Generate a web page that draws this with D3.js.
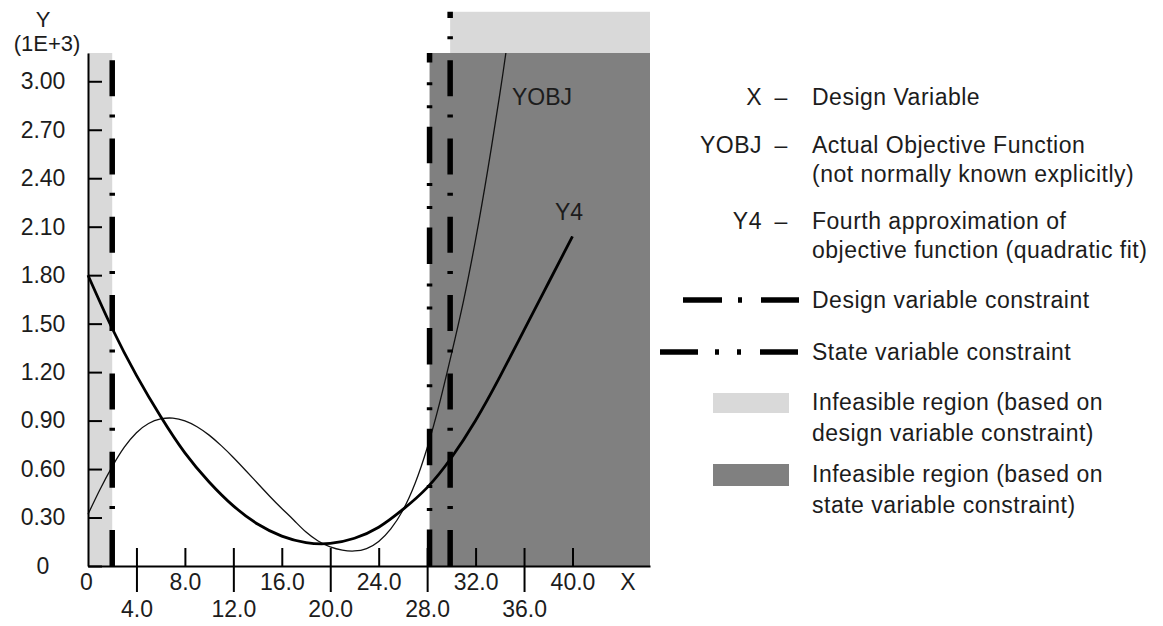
<!DOCTYPE html>
<html>
<head>
<meta charset="utf-8">
<script src="https://cdn.jsdelivr.net/npm/d3@7"></script>
<style>
  html, body { margin: 0; padding: 0; background: #fff; }
  text { font-family: "Liberation Sans", Arial, sans-serif; fill: #1c1c1c; }
</style>
</head>
<body>
<svg id="chart" width="1163" height="626"></svg>
<script>
// ---- data (Y in units of 1E+3) ----
const xTicks = [4, 8, 12, 16, 20, 24, 28, 32, 36, 40];
const yTicks = [0.3, 0.6, 0.9, 1.2, 1.5, 1.8, 2.1, 2.4, 2.7, 3.0];

// actual objective function
const yobjX = [0, 1, 2, 3, 4, 5, 6, 7, 8, 9, 10, 11, 12, 13, 14, 15, 16, 17, 18, 19, 20,
               21, 22, 23, 24, 25, 26, 27, 28, 29, 30, 31, 32, 33, 34, 34.5];
const yobjY = [0.32, 0.475, 0.615, 0.735, 0.825, 0.882, 0.91, 0.915, 0.898, 0.862, 0.81,
               0.745, 0.672, 0.593, 0.512, 0.432, 0.356, 0.283, 0.21, 0.155, 0.118,
               0.098, 0.093, 0.108, 0.152, 0.23, 0.345, 0.51, 0.73, 1.0, 1.31,
               1.64, 2.02, 2.45, 2.92, 3.175];

// fourth (quadratic) approximation
const y4X = [0, 2, 4, 6, 8, 10, 12, 14, 16, 18, 20, 22, 24, 26, 28, 30, 32, 34, 36, 38, 40];
const y4Y = [1.80, 1.47, 1.18, 0.925, 0.70, 0.52, 0.372, 0.26, 0.185, 0.145, 0.14,
             0.172, 0.24, 0.35, 0.485, 0.67, 0.90, 1.17, 1.46, 1.75, 2.04];

// constraints and region limits
const designLower = 2.0;
const designUpper = 29.9;
const stateLimit = 28.2;
const xMax = 46.4;
const yMax = 3.175;
const designRegionTop = 3.43;

// text
const curveLabels = ["YOBJ", "Y4"];
const legendKeys = ["X", "YOBJ", "Y4"];
const legendText = [
  ["Design Variable"],
  ["Actual Objective Function", "(not normally known explicitly)"],
  ["Fourth approximation of", "objective function (quadratic fit)"]
];
const lineLegend = ["Design variable constraint", "State variable constraint"];
const regionLegend = [
  ["Infeasible region (based on", "design variable constraint)"],
  ["Infeasible region (based on", "state variable constraint)"]
];

// ---- drawing ----
const svg = d3.select("#chart");
svg.append("rect").attr("width", 1163).attr("height", 626).attr("fill", "#fff");

const x = d3.scaleLinear().domain([0, xMax]).range([88, 650]);
const y = d3.scaleLinear().domain([0, yMax]).range([566, 53]);

const LIGHT = "#d9d9d9", DARK = "#808080";
const FS = 23;

// infeasible regions
svg.append("rect")
  .attr("x", x(0)).attr("y", y(yMax))
  .attr("width", x(designLower) - x(0)).attr("height", y(0) - y(yMax))
  .attr("fill", LIGHT);
svg.append("rect")
  .attr("x", x(designUpper)).attr("y", y(designRegionTop))
  .attr("width", x(xMax) - x(designUpper)).attr("height", y(0) - y(designRegionTop))
  .attr("fill", LIGHT);
svg.append("rect")
  .attr("x", x(stateLimit)).attr("y", y(yMax))
  .attr("width", x(xMax) - x(stateLimit)).attr("height", y(0) - y(yMax))
  .attr("fill", DARK);

// curves
const line = d3.line().x(d => x(d[0])).y(d => y(d[1])).curve(d3.curveNatural);
svg.append("path")
  .attr("d", line(d3.zip(yobjX, yobjY)))
  .attr("fill", "none").attr("stroke", "#111").attr("stroke-width", 1.3);
svg.append("path")
  .attr("d", line(d3.zip(y4X, y4Y)))
  .attr("fill", "none").attr("stroke", "#000").attr("stroke-width", 2.8);

// constraint lines (drawn upward from the X axis)
const DESIGN_DASH = "36 21 3 18.3";
const STATE_DASH = "36.5 18.5 3 20 3 19.7";
function vConstraint(xv, topV, dash) {
  svg.append("line")
    .attr("x1", x(xv)).attr("x2", x(xv))
    .attr("y1", y(0)).attr("y2", y(topV))
    .attr("stroke", "#000").attr("stroke-width", 5.5)
    .attr("stroke-dasharray", dash);
}
vConstraint(designLower, yMax, DESIGN_DASH);
vConstraint(stateLimit, yMax, STATE_DASH);
vConstraint(designUpper, designRegionTop, DESIGN_DASH);

// Y axis
const yAxis = d3.axisLeft(y)
  .tickValues([0, ...yTicks])
  .tickSize(-14).tickSizeOuter(0)
  .tickFormat(d => d === 0 ? "0" : d3.format(".2f")(d));
const gy = svg.append("g").attr("transform", `translate(${x(0)},0)`).call(yAxis);
gy.attr("font-size", FS).attr("font-family", null);
gy.select(".domain").attr("stroke", "#000").attr("stroke-width", 2);
gy.selectAll(".tick line").attr("stroke", "#000").attr("stroke-width", 2);
gy.selectAll(".tick text").attr("x", 43 - x(0)).attr("text-anchor", "middle").attr("fill", "#1c1c1c");

// X axis
const xAxis = d3.axisBottom(x)
  .tickValues([0, ...xTicks])
  .tickSizeOuter(0)
  .tickFormat(d => d === 0 ? "0" : d3.format(".1f")(d));
const gx = svg.append("g").attr("transform", `translate(0,${y(0)})`).call(xAxis);
gx.attr("font-size", FS).attr("font-family", null);
gx.select(".domain").attr("stroke", "#000").attr("stroke-width", 2);
gx.selectAll(".tick").each(function (d) {
  const t = d3.select(this);
  const idx = xTicks.indexOf(d);
  const lower = idx >= 0 && idx % 2 === 0;
  if (d === 0) {
    t.select("line").remove();
    t.select("text").attr("x", -2);
  } else {
    t.select("line").attr("y1", -18).attr("y2", lower ? 26 : 0)
      .attr("stroke", "#000").attr("stroke-width", 2);
  }
  t.select("text").attr("y", lower ? 43 : 16).attr("dy", "0.35em").attr("fill", "#1c1c1c");
});

// axis titles
svg.append("text").attr("x", 43).attr("y", 19).attr("dy", "0.35em")
  .attr("text-anchor", "middle").attr("font-size", 22).text("Y");
svg.append("text").attr("x", 47).attr("y", 43).attr("dy", "0.35em")
  .attr("text-anchor", "middle").attr("font-size", 22).text("(1E+3)");
svg.append("text").attr("x", 628).attr("y", 582).attr("dy", "0.35em")
  .attr("text-anchor", "middle").attr("font-size", FS).text("X");

// curve labels
svg.append("text").attr("x", 512).attr("y", 97).attr("dy", "0.35em")
  .attr("font-size", FS).text(curveLabels[0]);
svg.append("text").attr("x", 555).attr("y", 212).attr("dy", "0.35em")
  .attr("font-size", FS).text(curveLabels[1]);

// legend
const LS = "0.5px";
const legendRowY = [97, 145, 221];
const lineGap = 29;
legendKeys.forEach((k, i) => {
  const yy = legendRowY[i];
  svg.append("text").attr("x", 762).attr("y", yy).attr("dy", "0.35em")
    .attr("text-anchor", "end").attr("font-size", FS).attr("letter-spacing", LS).text(k);
  svg.append("text").attr("x", 781).attr("y", yy).attr("dy", "0.35em")
    .attr("text-anchor", "middle").attr("font-size", FS).text("\u2013");
  legendText[i].forEach((s, j) => {
    svg.append("text").attr("x", 812).attr("y", yy + j * lineGap).attr("dy", "0.35em")
      .attr("font-size", FS).attr("letter-spacing", LS).text(s);
  });
});

// constraint line samples
const lineRows = [
  { y: 300, x1: 683, dash: "39 16 4 19 38" },
  { y: 352, x1: 660, dash: "38 17 4 18 4 19 38" }
];
lineLegend.forEach((s, i) => {
  const r = lineRows[i];
  svg.append("line").attr("x1", r.x1).attr("x2", 800).attr("y1", r.y).attr("y2", r.y)
    .attr("stroke", "#000").attr("stroke-width", 5.5).attr("stroke-dasharray", r.dash);
  svg.append("text").attr("x", 812).attr("y", r.y).attr("dy", "0.35em")
    .attr("font-size", FS).attr("letter-spacing", LS).text(s);
});

// region swatches
const regionRows = [
  { y: 402, sy: 393, sh: 20, fill: LIGHT },
  { y: 474, sy: 464, sh: 22, fill: DARK }
];
regionLegend.forEach((lines, i) => {
  const r = regionRows[i];
  svg.append("rect").attr("x", 713).attr("y", r.sy).attr("width", 76).attr("height", r.sh)
    .attr("fill", r.fill);
  lines.forEach((s, j) => {
    svg.append("text").attr("x", 812).attr("y", r.y + j * 31).attr("dy", "0.35em")
      .attr("font-size", FS).attr("letter-spacing", LS).text(s);
  });
});
</script>
</body>
</html>
